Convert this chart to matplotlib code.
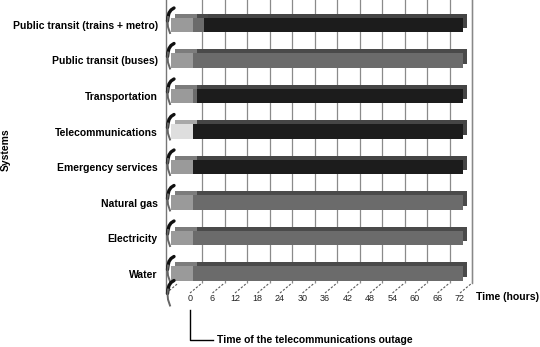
import matplotlib
matplotlib.use("Agg")
import matplotlib.pyplot as plt
import numpy as np
from matplotlib.transforms import offset_copy, IdentityTransform
from matplotlib.lines import Line2D

plt.rcParams['font.family'] = ['Liberation Sans', 'DejaVu Sans']

categories = ["Public transit (trains + metro)", "Public transit (buses)", "Transportation",
              "Telecommunications", "Emergency services", "Natural gas", "Electricity", "Water"]
pre_start = -6
pre_hours = [6, 6, 6, 6, 6, 6, 6, 6]
partial_hours = [3, 72, 1, 0, 0, 72, 72, 72]
failed_hours = [69, 0, 71, 72, 72, 0, 0, 0]
pre_colors = ['#9a9a9a', '#9a9a9a', '#9a9a9a', '#dedede', '#9a9a9a', '#9a9a9a', '#9a9a9a', '#9a9a9a']
pre_top = ['#7c7c7c', '#7c7c7c', '#7c7c7c', '#a8a8a8', '#7c7c7c', '#7c7c7c', '#7c7c7c', '#7c7c7c']
partial_color, partial_top = '#6b6b6b', '#4a4a4a'
failed_color, failed_top = '#1c1c1c', '#454545'
xticks = list(range(0, 73, 6))

W, H = 540, 347
fig = plt.figure(figsize=(W / 100, H / 100), dpi=100)
ax = fig.add_axes([166 / W, 1 - 293 / H, (474 - 166) / W, 293 / H])
ax.set_xlim(-6.4, 75.73)
ax.set_ylim(7.549, -0.704)
for s in ['top', 'right', 'bottom']:
    ax.spines[s].set_visible(False)
ax.spines['left'].set_color('#777777')
ax.spines['left'].set_linewidth(1.0)

back = offset_copy(ax.transData, fig=fig, x=12, y=10, units='dots')
bar_front = offset_copy(ax.transData, fig=fig, x=3, y=0, units='dots')
bar_depth = offset_copy(ax.transData, fig=fig, x=7, y=4, units='dots')

# back wall gridlines
ylo, yhi = ax.get_ylim()
ax.vlines(xticks, ylo, yhi - 1, transform=back, color='#8a8a8a', lw=0.9, zorder=1)

# bars
y = np.arange(len(categories))
h = 0.40
pre_left = [pre_start] * len(categories)
part_left = [pre_start + p for p in pre_hours]
fail_left = [pl + ph for pl, ph in zip(part_left, partial_hours)]
# depth layers
ax.barh(y, pre_hours, left=pre_left, height=h, color=pre_top, transform=bar_depth, zorder=2)
ax.barh(y, partial_hours, left=part_left, height=h, color=partial_top, transform=bar_depth, zorder=2)
ax.barh(y, failed_hours, left=fail_left, height=h, color=failed_top, transform=bar_depth, zorder=2)
# front faces
ax.barh(y, pre_hours, left=pre_left, height=h, color=pre_colors, transform=bar_front, zorder=3)
ax.barh(y, partial_hours, left=part_left, height=h, color=partial_color, transform=bar_front, zorder=3)
ax.barh(y, failed_hours, left=fail_left, height=h, color=failed_color, transform=bar_front, zorder=3)

# floor dashes from front to back
fig.canvas.draw()
for t in xticks + [-6.3]:
    p0 = ax.transData.transform((t, ylo))
    p1 = back.transform((t, ylo))
    fig.add_artist(Line2D([p0[0], p1[0]], [p0[1], p1[1]], transform=IdentityTransform(),
                          color='#555555', lw=0.8, linestyle=(0, (2, 1.5))))
# right back border
p0 = back.transform((72, ylo))
fig.add_artist(Line2D([p0[0], p0[0]], [p0[1], H], transform=IdentityTransform(), color='#888888', lw=1))

# axis break curls on the left wall
curl = np.array([(8, -17), (5, -15), (3, -12), (2, -8), (1.5, -4), (2, 2), (4, 8)])
for i in list(y) + [len(categories)]:
    base = ax.transData.transform((-6.4, i if i < len(categories) else len(categories) - 1))
    off = 0 if i < len(categories) else 24
    xs = base[0] + curl[:, 0]
    ys = base[1] - (curl[:, 1] + off)
    fig.add_artist(Line2D(xs[:5], ys[:5], transform=IdentityTransform(), color='#111111', lw=2.4,
                          solid_capstyle='round'))
    fig.add_artist(Line2D(xs[3:], ys[3:], transform=IdentityTransform(), color='#666666', lw=1.4))

# ticks and labels
ax.set_xticks(xticks)
ax.set_xticklabels([str(t) for t in xticks], fontsize=6.5, color='#222222')
ax.tick_params(axis='x', length=0, pad=1)
ax.set_yticks(y)
ax.set_yticklabels(categories, fontsize=7.5, fontweight='bold')
ax.tick_params(axis='y', length=0, pad=6)

ax.text(76.3, 7.66, "Time (hours)", fontsize=7.6, fontweight='bold', ha='left', va='center', clip_on=False)
fig.text(6 / W, 1 - 150 / H, "Systems", rotation=90, fontsize=7.5, fontweight='bold', ha='center', va='center')

ax.plot([0, 0, 6.1], [8.03, 8.87, 8.87], color='black', lw=1, clip_on=False)
ax.text(7.2, 8.87, "Time of the telecommunications outage", fontsize=7.5, fontweight='bold',
        ha='left', va='center', clip_on=False)

fig.savefig("out.png", dpi=100)
